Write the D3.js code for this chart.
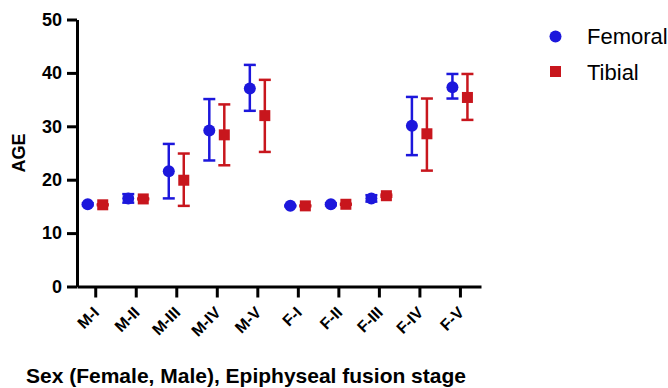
<!DOCTYPE html>
<meta charset="utf-8">
<style>
  body { margin: 0; background: #fff; }
  svg { font-family: Arial, "Liberation Sans", sans-serif; }
  .axis path, .axis line { stroke: #000; stroke-width: 3; }
  .axis text { font-weight: bold; fill: #000; font-family: Arial, "Liberation Sans", sans-serif; }
  .xlabel { font-weight: bold; font-size: 16px; fill: #000; }
</style>
<body>
<script src="https://cdn.jsdelivr.net/npm/d3@7"></script>
<div id="chart"></div>
<script>
// groups on the x axis
var stages = ["M-I", "M-II", "M-III", "M-IV", "M-V", "F-I", "F-II", "F-III", "F-IV", "F-V"];

// mean age and error bar low / high
var femoralMean = [15.4, 16.5, 21.6, 29.2, 37.1, 15.1, 15.4, 16.5, 30.1, 37.3];
var femoralLow  = [15.2, 15.7, 16.5, 23.6, 32.9, 15.0, 15.2, 15.9, 24.6, 35.2];
var femoralHigh = [15.6, 17.3, 26.7, 35.1, 41.5, 15.2, 15.6, 17.1, 35.5, 39.8];

var tibialMean = [15.3, 16.4, 19.9, 28.4, 32.0, 15.1, 15.4, 17.0, 28.6, 35.4];
var tibialLow  = [15.2, 16.3, 15.1, 22.7, 25.2, 15.0, 15.3, 16.8, 21.7, 31.2];
var tibialHigh = [15.4, 16.5, 24.9, 34.1, 38.7, 15.2, 15.5, 17.2, 35.2, 39.8];

var yTicks = [0, 10, 20, 30, 40, 50];

var width = 668, height = 388;
var blue = "#1c17dc", red = "#c8161d";

var svg = d3.select("#chart").append("svg")
    .attr("width", width)
    .attr("height", height);

var x = d3.scaleLinear().domain([-0.45, 9.52]).range([77, 481]);
var y = d3.scaleLinear().domain([0, 50]).range([286.5, 19.5]);

// y axis
var yAxis = svg.append("g")
    .attr("class", "axis")
    .attr("transform", "translate(77,0)")
    .call(d3.axisLeft(y).tickValues(yTicks).tickSize(10).tickSizeOuter(0).tickPadding(5));
yAxis.attr("font-family", null);
yAxis.selectAll("text").style("font-size", "18px");

// x axis (labels drawn separately, rotated)
svg.append("g")
    .attr("class", "axis")
    .attr("transform", "translate(0," + y(0) + ")")
    .call(d3.axisBottom(x).tickValues(d3.range(stages.length)).tickSize(11).tickSizeOuter(0)
      .tickFormat(""));

svg.append("g").selectAll("text")
    .data(stages)
  .enter().append("text")
    .attr("class", "xlabel")
    .attr("text-anchor", "end")
    .attr("transform", function(d, i) {
      return "translate(" + (x(i) + 5) + "," + (y(0) + 27) + ") rotate(-45)";
    })
    .text(function(d) { return d; });

// axis titles
svg.append("text")
    .attr("transform", "translate(25," + y(25) + ") rotate(-90)")
    .attr("text-anchor", "middle")
    .style("font-size", "18px")
    .style("font-weight", "bold")
    .text("AGE");

svg.append("text")
    .attr("x", 246)
    .attr("y", 383)
    .attr("text-anchor", "middle")
    .style("font-size", "21px")
    .style("font-weight", "bold")
    .text("Sex (Female, Male), Epiphyseal fusion stage");

function drawSeries(mean, low, high, offset, color, shape) {
  var g = svg.append("g");
  var cap = 6;
  stages.forEach(function(s, i) {
    var cx = x(i) + offset;
    g.append("line")
        .attr("x1", cx).attr("x2", cx)
        .attr("y1", y(low[i])).attr("y2", y(high[i]))
        .attr("stroke", color).attr("stroke-width", 2.5);
    [low[i], high[i]].forEach(function(v) {
      g.append("line")
          .attr("x1", cx - cap).attr("x2", cx + cap)
          .attr("y1", y(v)).attr("y2", y(v))
          .attr("stroke", color).attr("stroke-width", 2.5);
    });
    if (shape === "circle") {
      g.append("circle")
          .attr("cx", cx).attr("cy", y(mean[i])).attr("r", 6)
          .attr("fill", color);
    } else {
      g.append("rect")
          .attr("x", cx - 5.5).attr("y", y(mean[i]) - 5.5)
          .attr("width", 11).attr("height", 11)
          .attr("fill", color);
    }
  });
}

drawSeries(femoralMean, femoralLow, femoralHigh, -7.5, blue, "circle");
drawSeries(tibialMean, tibialLow, tibialHigh, 7.5, red, "square");

// legend
var legend = svg.append("g");
legend.append("circle").attr("cx", 555.5).attr("cy", 36.5).attr("r", 6).attr("fill", blue);
legend.append("text").attr("x", 587).attr("y", 43.5)
    .style("font-size", "22px").text("Femoral");
legend.append("rect").attr("x", 550).attr("y", 66).attr("width", 11).attr("height", 11).attr("fill", red);
legend.append("text").attr("x", 587).attr("y", 79.5)
    .style("font-size", "22px").text("Tibial");
</script>
</body>
</html>
